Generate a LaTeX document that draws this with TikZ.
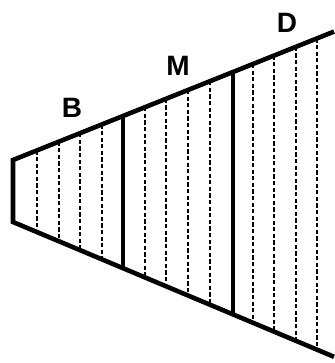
\documentclass[tikz,border=0pt]{standalone}
\usepackage{fontspec}
\setmainfont{Liberation Sans}
\usepackage{tikz}
\usetikzlibrary{calc}
\tikzset{
  hornedge/.style={line width=4.6pt, black, line join=miter},
  zonesep/.style={line width=4pt, black},
  slicesep/.style={line width=2.6pt, black, dash pattern=on 4.2pt off 2.4pt},
  zonelabel/.style={font=\fontsize{28}{28}\selectfont\bfseries, inner sep=0pt},
}

\begin{document}
\begin{tikzpicture}[x=1pt, y=-1pt]
  \useasboundingbox (0,0) rectangle (334,363);
  \coordinate (tl) at (13,160);
  \coordinate (bl) at (13,222);
  \coordinate (tr) at (334,31.6);
  \coordinate (br) at (334,356.8);
  % dashed slices
  \foreach \x in {37,59,80,102,145,166,188,210,253,274,296,317}
    \draw[slicesep] ($(tl)!{(\x-13)/321}!(tr)$) -- ($(bl)!{(\x-13)/321}!(br)$);
  % zone borders
  \foreach \x in {123,233}
    \draw[zonesep] ($(tl)!{(\x-13)/321}!(tr)$) -- ($(bl)!{(\x-13)/321}!(br)$);
  \draw[hornedge] (tr) -- (tl) -- (bl) -- (br);
  \node[zonelabel] (lblB) at (72,108) {B};
  \node[zonelabel] (lblM) at (178,66) {M};
  \node[zonelabel] (lblD) at (287,23) {D};
\end{tikzpicture}
\end{document}
